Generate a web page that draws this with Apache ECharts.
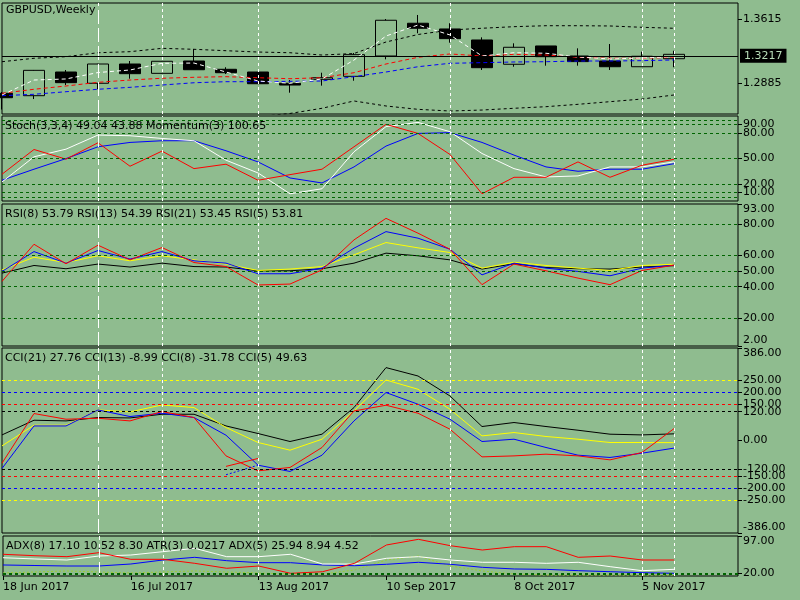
<!DOCTYPE html>
<html>
<head>
<meta charset="utf-8">
<title>GBPUSD,Weekly</title>
<script src="https://cdn.jsdelivr.net/npm/echarts@6/dist/echarts.min.js"></script>
<style>
	html,body{margin:0;padding:0;background:#8fbc8f;}
	#chart{width:800px;height:600px;}
</style>
</head>
<body>
<div id="chart"></div>
<script>
// weekly bars, two empty slots on the right like the terminal shows
var dates=['18 Jun 2017','25 Jun 2017','2 Jul 2017','9 Jul 2017','16 Jul 2017','23 Jul 2017','30 Jul 2017','6 Aug 2017',
	'13 Aug 2017','20 Aug 2017','27 Aug 2017','3 Sep 2017','10 Sep 2017','17 Sep 2017','24 Sep 2017','1 Oct 2017',
	'8 Oct 2017','15 Oct 2017','22 Oct 2017','29 Oct 2017','5 Nov 2017','12 Nov 2017','19 Nov 2017','26 Nov 2017'];

// open, close, low, high
var candles=[
	[1.2774,1.2724,1.2590,1.2789],[1.2747,1.3035,1.2709,1.3039],[1.3016,1.2895,1.2868,1.3039],[1.2888,1.3107,1.2820,1.3110],
	[1.3107,1.2997,1.2940,1.3141],[1.3001,1.3138,1.2998,1.3140],[1.3141,1.3042,1.3039,1.3278],[1.3047,1.3008,1.2993,1.3070],
	[1.3016,1.2883,1.2880,1.3016],[1.2888,1.2868,1.2781,1.2925],[1.2933,1.2951,1.2861,1.3008],[1.2967,1.3213,1.2917,1.3232],
	[1.3198,1.3604,1.3160,1.3618],[1.3570,1.3513,1.3456,1.3664],[1.3505,1.3395,1.3349,1.3570],[1.3380,1.3065,1.3039,1.3410],
	[1.3104,1.3297,1.3076,1.3342],[1.3312,1.3190,1.3088,1.3312],[1.3198,1.3134,1.3088,1.3285],[1.3141,1.3076,1.3039,1.3334],
	[1.3076,1.3195,1.3076,1.3247],[1.3167,1.3217,1.3070,1.3258]
];
var maWhite=[1.2755,1.2925,1.2937,1.3010,1.3039,1.3115,1.3118,1.3016,1.2914,1.2888,1.2937,1.3152,1.3425,1.3550,1.3437,1.3198,1.3235,1.3229,1.3187,1.3164,1.3175,1.3190];
var maRed=[1.2774,1.2820,1.2857,1.2899,1.2925,1.2945,1.2956,1.2963,1.2951,1.2940,1.2951,1.3008,1.3107,1.3183,1.3221,1.3198,1.3217,1.3209,1.3183,1.3172,1.3172,1.3183];
var maBlue=[1.2747,1.2763,1.2792,1.2820,1.2842,1.2868,1.2894,1.2906,1.2906,1.2910,1.2914,1.2963,1.3016,1.3076,1.3115,1.3122,1.3130,1.3133,1.3141,1.3141,1.3145,1.3153];
var bandUpper=[1.3133,1.3172,1.3190,1.3235,1.3247,1.3285,1.3274,1.3258,1.3243,1.3235,1.3209,1.3226,1.3357,1.3442,1.3493,1.3513,1.3531,1.3542,1.3542,1.3539,1.3524,1.3513];
var bandLower=[1.2420,1.2400,1.2410,1.2420,1.2430,1.2440,1.2460,1.2480,1.2510,1.2545,1.2604,1.2687,1.2630,1.2592,1.2573,1.2584,1.2604,1.2622,1.2649,1.2679,1.2709,1.2755];
var lastPrice=1.3217;
var priceTicks=[1.2885,1.3615];

var stochRed=[31.5,60.6,49.2,68.5,40.9,58.7,38.1,43.3,24.4,31.0,37.4,63.8,90.2,79.5,54.7,8.5,27.9,27.9,46.0,27.9,42.1,49.04];
var stochWhite=[22.4,52.0,61.0,77.6,76.8,73.6,70.9,48.0,33.0,8.5,14.4,57.9,87.5,92.5,81.5,55.9,38.1,28.3,29.5,40.1,40.1,46.0];
var stochBlue=[24.4,37.4,49.9,63.8,68.9,70.9,70.9,59.1,46.0,27.1,21.2,40.1,64.6,79.5,80.4,68.9,54.0,40.1,35.0,37.4,37.4,43.88];
var stochLevels=[5,10,20,50,80,90,95];

var rsi5=[43.4,67.2,54.7,66.6,57.2,65.1,55.5,52.9,41.1,41.7,50.8,70.0,83.8,74.3,64.0,41.3,54.5,50.2,45.5,41.3,50.4,53.81];
var rsi8=[49.8,62.5,55.1,63.2,57.7,62.5,56.6,55.1,48.3,48.3,51.9,64.7,75.3,71.1,64.0,47.6,55.1,51.9,49.8,47.0,51.9,53.79];
var rsi13=[50.8,58.9,55.5,59.8,56.6,59.8,57.2,54.5,50.4,51.3,52.9,60.4,68.3,64.9,61.9,51.9,55.7,53.6,51.9,50.4,53.6,54.39];
var rsi21=[48.7,53.6,51.5,54.5,52.6,55.1,52.9,52.6,50.2,50.2,51.5,55.1,61.5,59.8,57.2,51.3,54.7,52.3,51.5,51.3,52.6,53.45];
var rsiLevels=[20,40,50,60,80];
var rsiTicks=[2,20,40,50,60,80,93];

var cci21=[23.3,84.6,81.7,95.8,94.2,109.6,109.6,60.8,29.2,-4.2,26.3,137.5,304.2,269.2,185.8,58.3,75.0,58.3,42.9,26.3,23.3,27.76];
var cci13=[-22.5,63.8,63.8,127.5,119.2,148.3,137.5,54.2,-8.3,-40.4,5.4,123.3,252.5,213.8,130.4,19.2,33.3,16.7,5.4,-8.3,-8.3,-8.99];
var cci8=[-116.7,60.8,60.8,127.5,100.0,113.8,95.8,22.1,-102.9,-129.2,-61.3,81.7,200.0,151.3,88.8,-4.2,5.4,-29.2,-61.3,-70.8,-52.9,-31.78];
var cci5=[-94.6,112.5,88.8,92.9,81.7,120.8,95.8,-64.2,-126.7,-112.5,-29.2,123.3,147.1,113.8,47.1,-68.3,-64.2,-57.1,-64.2,-80.8,-50.0,49.63];
// two short leftover segments around 6-13 Aug
var cci5Tail=[null,null,null,null,null,null,null,-108,-75,null,null,null,null,null,null,null,null,null,null,null,null,null];
var cci8Tail=[null,null,null,null,null,null,null,-143,-103,null,null,null,null,null,null,null,null,null,null,null,null,null];
var cciLevels=[250,200,150,120,-120,-150,-200,-250];
var cciTicks=[-386,-250,-200,-150,-120,0,120,150,200,250,386];

var adxRed=[59.5,56.6,54.6,62.8,49.2,49.2,41.0,30.8,35.5,20.5,23.8,41.0,78.6,90.2,77.1,68.3,75.1,75.1,53.3,56.0,47.8,47.8];
var adxWhite=[52.5,49.9,47.8,56.0,58.0,64.8,71.8,54.6,54.6,59.5,39.6,39.6,51.3,54.6,47.8,43.1,43.1,41.0,43.1,34.1,25.9,28.7];
var adxBlue=[37.6,36.5,35.5,35.5,39.6,47.8,53.3,46.4,42.3,42.3,37.6,36.1,39.0,43.1,39.0,32.8,29.4,28.7,25.9,23.8,21.8,20.5];
var atrLine=[21.2,23.2,25.3,23.2,21.2,23.2,25.3,23.2,21.2,19.1,19.1,27.3,47.8,56.0,35.5,25.3,19.1,17.0,17.0,17.0,17.0,17.0];
var adxLevels=[18,20];
var adxTicks=[18,20,97];

// vertical line objects on the chart
var markerDates=['9 Jul 2017','23 Jul 2017','13 Aug 2017','24 Sep 2017','5 Nov 2017','12 Nov 2017'];

var headers=[
	'GBPUSD,Weekly',
	'Stoch(3,3,4) 49.04 43.88 Momentum(3) 100.65',
	'RSI(8) '+rsi8[21].toFixed(2)+' RSI(13) '+rsi13[21].toFixed(2)+' RSI(21) '+rsi21[21].toFixed(2)+' RSI(5) '+rsi5[21].toFixed(2),
	'CCI(21) '+cci21[21].toFixed(2)+' CCI(13) '+cci13[21].toFixed(2)+' CCI(8) '+cci8[21].toFixed(2)+' CCI(5) '+cci5[21].toFixed(2),
	'ADX(8) 17.10 10.52 8.30 ATR(3) 0.0217 ADX(5) 25.94 8.94 4.52'
];

(function(){
	var FONT='DejaVu Sans';
	var BG='#8fbc8f';
	var cciColors={250:'#ffff00',200:'#0000ff',150:'#ff0000',120:'#000000'};

	var _chart={
		_init:function(){
			this.myChart=echarts.init(document.getElementById('chart'),null,{renderer:'canvas'});
			this.render();
		},
		render:function(){
			var that=this;
			var option={
				animation:false,
				backgroundColor:BG,
				textStyle:{fontFamily:FONT},
				title:that.titles(),
				grid:[
					{left:2,top:3,width:736,height:111},
					{left:2,top:116,width:736,height:85},
					{left:2,top:204,width:736,height:142},
					{left:2,top:348,width:736,height:185},
					{left:2,top:536,width:736,height:40}
				].map(function(g){
					g.show=true;g.borderColor='#000';g.borderWidth=1;g.backgroundColor='transparent';
					return g;
				}),
				xAxis:[0,1,2,3,4].map(function(i){return that.xAxisOf(i);}),
				yAxis:[
					that.yAxisOf(0,1.2539,1.3800,priceTicks,4,false),
					that.yAxisOf(1,0,100,stochLevels,2,false),
					that.yAxisOf(2,2,93,rsiTicks,2,true),
					that.yAxisOf(3,-386,386,cciTicks,2,true),
					that.yAxisOf(4,15,97,adxTicks,2,'max')
				],
				series:that.priceSeries()
					.concat(that.stochSeries())
					.concat(that.rsiSeries())
					.concat(that.cciSeries())
					.concat(that.adxSeries())
			};
			that.myChart.setOption(option);
			return that.myChart;
		},
		titles:function(){
			var tops=[5,121,209,353,541];
			return headers.map(function(t,i){
				return {text:t,left:i===0||i===4?6:5,top:tops[i],padding:0,
					textStyle:{fontFamily:FONT,fontSize:11,fontWeight:'normal',color:'#000'}};
			});
		},
		xAxisOf:function(i){
			var every4=function(idx){return idx%4===0;};
			var last=(i===4);
			return {
				type:'category',gridIndex:i,data:dates,boundaryGap:false,
				axisLine:{show:false},
				axisTick:{show:last,interval:every4,length:4,lineStyle:{color:'#000'}},
				axisLabel:{show:last,interval:every4,align:'left',margin:6,
					fontFamily:FONT,fontSize:11,color:'#000'},
				splitLine:{show:false}
			};
		},
		yAxisOf:function(i,min,max,ticks,digits,edge){
			var label={
				customValues:ticks,margin:5,fontFamily:FONT,fontSize:11,color:'#000',
				formatter:function(v){return Number(v).toFixed(digits);}
			};
			if(edge){
				label.verticalAlignMaxLabel='top';
				if(edge===true){label.verticalAlignMinLabel='bottom';}
			}
			return {
				type:'value',gridIndex:i,position:'right',min:min,max:max,scale:true,
				axisLine:{show:false},
				axisTick:{show:true,customValues:ticks,length:4,lineStyle:{color:'#000'}},
				axisLabel:label,
				splitLine:{show:false}
			};
		},
		line:function(grid,data,color,type,extra){
			var s={
				type:'line',xAxisIndex:grid,yAxisIndex:grid,data:data,
				showSymbol:false,symbol:'none',silent:true,connectNulls:false,
				lineStyle:{color:color,width:1,type:type||'solid'}
			};
			return echarts.util.merge(s,extra||{},true);
		},
		/**
		 * 竖线 + 水平线
		 */
		marks:function(levels){
			var data=markerDates.map(function(d,k){
				return {xAxis:d,lineStyle:{color:'#ffffff',type:k===0?[14,4]:[3,3]}};
			});
			return {
				symbol:['none','none'],silent:true,label:{show:false},
				lineStyle:{width:1},
				data:data.concat(levels||[])
			};
		},
		greenLevels:function(levels){
			return levels.map(function(v){
				return {yAxis:v,lineStyle:{color:'#006400',type:[3,3]}};
			});
		},
		priceSeries:function(){
			var mk=this.marks([{
				yAxis:lastPrice,
				lineStyle:{color:'#000',type:'solid'},
				label:{show:true,position:'end',distance:2,formatter:lastPrice.toFixed(4),
					backgroundColor:'#000',color:'#b8dcb8',padding:[2,4,1,4],
					fontFamily:FONT,fontSize:11}
			}]);
			return [
				{
					type:'candlestick',xAxisIndex:0,yAxisIndex:0,data:candles,barWidth:22,silent:true,
					itemStyle:{color:BG,color0:'#000',borderColor:'#000',borderColor0:'#000',borderWidth:1},
					markLine:mk
				},
				this.line(0,bandUpper,'#000',[3,3]),
				this.line(0,bandLower,'#000',[3,3]),
				this.line(0,maBlue,'#0000ff',[4,3]),
				this.line(0,maRed,'#ff0000',[4,3]),
				this.line(0,maWhite,'#ffffff',[4,3])
			];
		},
		stochSeries:function(){
			return [
				this.line(1,stochBlue,'#0000ff',null,{markLine:this.marks(this.greenLevels(stochLevels))}),
				this.line(1,stochWhite,'#ffffff'),
				this.line(1,stochRed,'#ff0000')
			];
		},
		rsiSeries:function(){
			return [
				this.line(2,rsi21,'#000000',null,{markLine:this.marks(this.greenLevels(rsiLevels))}),
				this.line(2,rsi13,'#ffff00'),
				this.line(2,rsi8,'#0000ff'),
				this.line(2,rsi5,'#ff0000')
			];
		},
		cciSeries:function(){
			var lv=cciLevels.map(function(v){
				return {yAxis:v,lineStyle:{color:cciColors[Math.abs(v)],type:[3,3]}};
			});
			return [
				this.line(3,cci21,'#000000',null,{markLine:this.marks(lv)}),
				this.line(3,cci13,'#ffff00'),
				this.line(3,cci8,'#0000ff'),
				this.line(3,cci5,'#ff0000'),
				this.line(3,cci8Tail,'#0000ff',[2,2]),
				this.line(3,cci5Tail,'#ff0000')
			];
		},
		adxSeries:function(){
			return [
				this.line(4,atrLine,'#9acd32',[2,2],{markLine:this.marks(this.greenLevels(adxLevels))}),
				this.line(4,adxBlue,'#0000ff'),
				this.line(4,adxWhite,'#ffffff'),
				this.line(4,adxRed,'#ff0000')
			];
		}
	};
	_chart._init();
})();
</script>
</body>
</html>
